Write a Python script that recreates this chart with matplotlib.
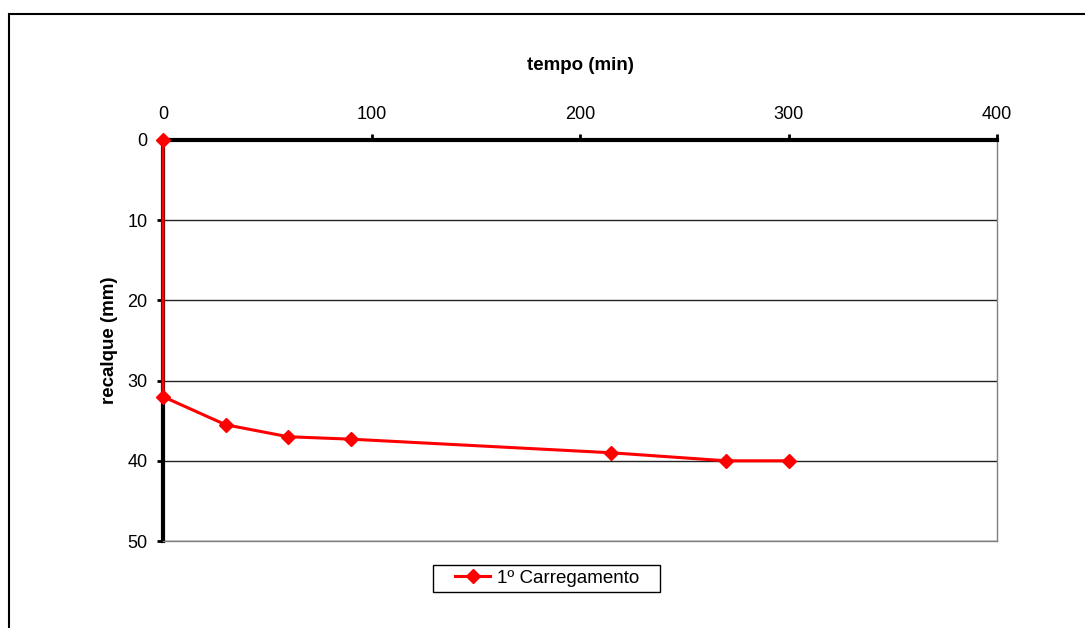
import matplotlib
matplotlib.use('Agg')
import matplotlib.pyplot as plt
from matplotlib.patches import Rectangle

plt.rcParams['font.family'] = ['Liberation Sans', 'DejaVu Sans']

# settlement readings for the first loading stage
tempo = [0, 0, 30, 60, 90, 215, 270, 300]
recalque = [0, 32, 35.5, 37.0, 37.3, 39.0, 40.0, 40.0]
xticks = [0, 100, 200, 300, 400]
yticks = [0, 10, 20, 30, 40, 50]

W, H = 1085, 628
fig = plt.figure(figsize=(W / 100, H / 100), dpi=100)
# chart-area border (runs off the right and bottom edges)
fig.patches.append(Rectangle((9 / W, -0.1), 1.2, 1.1 - 14 / H,
                             transform=fig.transFigure, fill=False,
                             edgecolor='black', linewidth=1.5))

ax = fig.add_axes([163 / W, 1 - 541 / H, 834 / W, 401 / H])
ax.plot(tempo, recalque, color='#ff0000', linewidth=2.2, marker='D',
        markersize=7, label='1º Carregamento', clip_on=False, zorder=5)

ax.set_xlim(0, 400)
ax.set_ylim(50, 0)
ax.set_xticks(xticks)
ax.set_yticks(yticks)
ax.xaxis.tick_top()
ax.xaxis.set_label_position('top')
ax.tick_params(axis='x', direction='out', length=4, width=2, pad=8,
               labelsize=13)
ax.tick_params(axis='y', direction='out', length=4, width=2, pad=7,
               labelsize=13)
ax.set_xlabel('tempo (min)', fontweight='bold', fontsize=13.5, labelpad=26)
ax.set_ylabel('recalque (mm)', fontweight='bold', fontsize=13.5, labelpad=7)

ax.yaxis.grid(True, color='#222222', linewidth=1)
ax.set_axisbelow(True)
for side in ['top', 'left']:
    ax.spines[side].set_linewidth(3)
    ax.spines[side].set_color('black')
for side in ['right', 'bottom']:
    ax.spines[side].set_linewidth(1)
    ax.spines[side].set_color('#808080')

# legend without its own frame; a wider box is drawn around it
leg = ax.legend(loc='center', bbox_to_anchor=(547 / W, 1 - 578 / H),
                bbox_transform=fig.transFigure, frameon=False,
                fontsize=13.5, handlelength=1.9, handletextpad=0.35,
                borderpad=0.3, borderaxespad=0)
fig.patches.append(Rectangle((433 / W, 1 - 592 / H), 227 / W, 27 / H,
                             transform=fig.transFigure, fill=False,
                             edgecolor='black', linewidth=1))

fig.savefig('out.png', dpi=100)
